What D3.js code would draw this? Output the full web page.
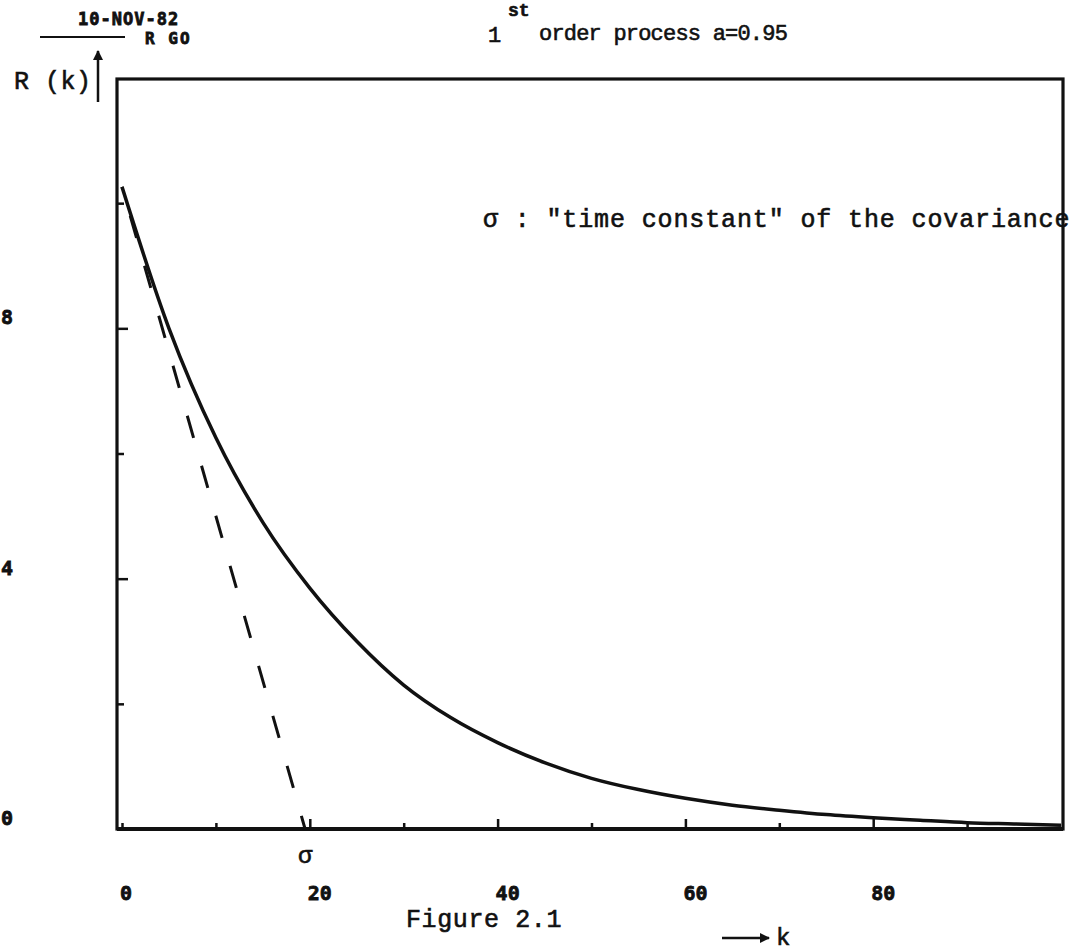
<!DOCTYPE html>
<html>
<head>
<meta charset="utf-8">
<script src="https://cdn.jsdelivr.net/npm/d3@7"></script>
<style>
body { margin: 0; background: #fff; }
svg { display: block; }
.tw { font-family: "Liberation Mono", "Courier New", monospace; fill: #111; stroke: #111; stroke-width: 0.6px; }
.blk { font-family: "DejaVu Sans Mono", monospace; font-weight: bold; fill: #111; stroke: #111; stroke-width: 0.8px; }
</style>
</head>
<body>
<div id="chart"></div>
<script>
// values
var kValues = [0, 5, 10, 15, 20, 25, 30, 35, 40, 45, 50, 55, 60, 65, 70, 75, 80, 85, 90, 95, 100];
var rValues = [10.26, 8.0, 6.25, 4.9, 3.85, 3.0, 2.3, 1.78, 1.38, 1.06, 0.81, 0.63, 0.49, 0.38, 0.3, 0.23, 0.18, 0.14, 0.1, 0.08, 0.06];
var sigma = 19.5;
var tangentK = [0, sigma];
var tangentR = [10.26, 0];

var xMajor = [20, 40, 60, 80];
var xMinor = [0, 10, 30, 50, 70, 90];
var xLabels = ["0", "20", "40", "60", "80"];
var xLabelPos = [0, 20, 40, 60, 80];
var yMajor = [0, 4, 8];
var yMinor = [2, 6, 10];
var yLabels = ["0", "4", "8"];

var svgWidth = 1074;
var svgHeight = 951;

var svg = d3.select("#chart")
    .append("svg")
    .attr("width", svgWidth)
    .attr("height", svgHeight);

// scales
var xScale = d3.scaleLinear().domain([0, 100]).range([122, 1061]);
var yScale = d3.scaleLinear().domain([0, 12]).range([829, 78]);

// frame
svg.append("rect")
    .attr("x", 117)
    .attr("y", 79)
    .attr("width", 1063 - 117)
    .attr("height", 829 - 79)
    .attr("fill", "none")
    .attr("stroke", "#111")
    .attr("stroke-width", 3.2);

svg.append("line")
    .attr("x1", 117).attr("x2", 1063)
    .attr("y1", 829).attr("y2", 829)
    .attr("stroke", "#111")
    .attr("stroke-width", 4);

// ticks (inward)
function tickAxis(axis, g) {
    g.call(axis);
    g.select(".domain").remove();
    g.selectAll("line").attr("stroke", "#111").attr("stroke-width", 2.5);
}

tickAxis(d3.axisBottom(xScale).tickValues(xMajor).tickSize(-10).tickFormat(""),
    svg.append("g").attr("transform", "translate(0,829)"));
tickAxis(d3.axisBottom(xScale).tickValues(xMinor).tickSize(-6).tickFormat(""),
    svg.append("g").attr("transform", "translate(0,829)"));
tickAxis(d3.axisLeft(yScale).tickValues(yMajor).tickSize(-11).tickFormat(""),
    svg.append("g").attr("transform", "translate(117,0)"));
tickAxis(d3.axisLeft(yScale).tickValues(yMinor).tickSize(-7).tickFormat(""),
    svg.append("g").attr("transform", "translate(117,0)"));

// tick labels
svg.selectAll(".xlab")
    .data(xLabels)
    .enter()
    .append("text")
    .attr("class", "blk")
    .attr("x", (d, i) => xScale(xLabelPos[i]) - 2)
    .attr("y", 900)
    .attr("font-size", 20)
    .text(d => d);

svg.selectAll(".ylab")
    .data(yLabels)
    .enter()
    .append("text")
    .attr("class", "blk")
    .attr("x", 1)
    .attr("y", (d, i) => yScale(yMajor[i]) - 4)
    .attr("font-size", 20)
    .text(d => d);

// covariance curve
var line = d3.line()
    .x(d => xScale(d[0]))
    .y(d => yScale(d[1]))
    .curve(d3.curveMonotoneX);

svg.append("path")
    .datum(kValues.map((k, i) => [k, rValues[i]]))
    .attr("d", line)
    .attr("fill", "none")
    .attr("stroke", "#111")
    .attr("stroke-width", 3.5);

// tangent (dashed)
svg.append("path")
    .datum(tangentK.map((k, i) => [k, tangentR[i]]))
    .attr("d", d3.line().x(d => xScale(d[0])).y(d => yScale(d[1])))
    .attr("fill", "none")
    .attr("stroke", "#111")
    .attr("stroke-width", 3)
    .attr("stroke-dasharray", "23,29")
    .attr("stroke-dashoffset", -30);

// texts
svg.append("text").attr("class", "tw")
    .attr("x", 488).attr("y", 42).attr("font-size", 22)
    .text("1");
svg.append("text").attr("class", "tw")
    .attr("x", 508).attr("y", 16).attr("font-size", 18).attr("font-weight", "bold")
    .text("st");
svg.append("text").attr("class", "tw")
    .attr("x", 539).attr("y", 40).attr("font-size", 22)
    .attr("letter-spacing", -0.8)
    .text("order process a=0.95");

svg.append("text").attr("class", "tw")
    .attr("x", 483).attr("y", 227).attr("font-size", 25)
    .attr("letter-spacing", 0.87)
    .attr("xml:space", "preserve")
    .text("σ : \"time constant\" of the covariance");

svg.append("text").attr("class", "tw")
    .attr("x", 14).attr("y", 89).attr("font-size", 25)
    .attr("letter-spacing", 0.5)
    .attr("xml:space", "preserve")
    .text("R (k)");

svg.append("text").attr("class", "tw")
    .attr("x", xScale(sigma)).attr("y", 863).attr("font-size", 24)
    .attr("text-anchor", "middle")
    .text("σ");

svg.append("text").attr("class", "tw")
    .attr("x", 406).attr("y", 927).attr("font-size", 25)
    .attr("letter-spacing", 0.6)
    .attr("xml:space", "preserve")
    .text("Figure 2.1");

svg.append("text").attr("class", "tw")
    .attr("x", 776).attr("y", 945).attr("font-size", 24)
    .text("k");

// arrows
svg.append("defs").append("marker")
    .attr("id", "head")
    .attr("viewBox", "0 0 10 10")
    .attr("refX", 9).attr("refY", 5)
    .attr("markerWidth", 4).attr("markerHeight", 4)
    .attr("orient", "auto")
    .append("path")
    .attr("d", "M0,0 L10,5 L0,10 z")
    .attr("fill", "#111");

svg.append("line")
    .attr("x1", 98).attr("y1", 102).attr("x2", 98).attr("y2", 51)
    .attr("stroke", "#111").attr("stroke-width", 2.5)
    .attr("marker-end", "url(#head)");

svg.append("line")
    .attr("x1", 722).attr("y1", 938).attr("x2", 769).attr("y2", 938)
    .attr("stroke", "#111").attr("stroke-width", 2.5)
    .attr("marker-end", "url(#head)");

// plot stamp top-left
svg.append("text").attr("class", "blk")
    .attr("x", 78).attr("y", 25).attr("font-size", 17)
    .attr("letter-spacing", 1)
    .text("10-NOV-82");
svg.append("line")
    .attr("x1", 40).attr("x2", 125).attr("y1", 37).attr("y2", 37)
    .attr("stroke", "#111").attr("stroke-width", 2);
svg.append("text").attr("class", "blk")
    .attr("x", 145).attr("y", 44).attr("font-size", 16)
    .attr("letter-spacing", 2)
    .attr("xml:space", "preserve")
    .text("R GO");
</script>
</body>
</html>
